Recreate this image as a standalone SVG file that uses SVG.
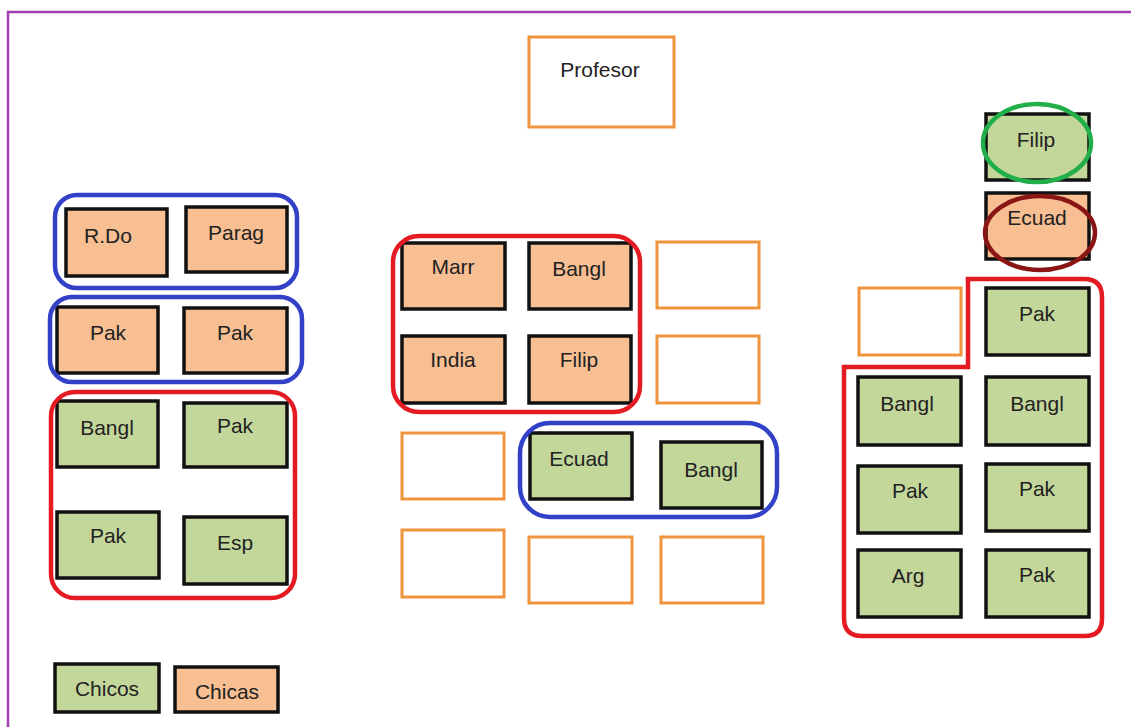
<svg xmlns="http://www.w3.org/2000/svg" width="1131" height="727" viewBox="0 0 1131 727">
<style>
  .boy { fill: #C4D79B; stroke: #111; stroke-width: 3.5; }
  .girl { fill: #F8BF93; stroke: #111; stroke-width: 3.5; }
  .empty { fill: #fff; stroke: #F0943E; stroke-width: 3; }
  .blue { fill: none; stroke: #3340C8; stroke-width: 4.5; }
  .red { fill: none; stroke: #E41B23; stroke-width: 4.5; }
  text { font-family: "Liberation Sans", Arial, sans-serif; font-size: 21px; fill: #222; text-anchor: middle; }
</style>
<rect width="1131" height="727" fill="#fff"/>
<path d="M8,727 L8,12 L1131,12" fill="none" stroke="#A23DB5" stroke-width="2.5"/>

<g id="profesor"><rect class="empty" x="529" y="37" width="145" height="90"/><text x="600" y="77">Profesor</text></g>

<!-- left column -->
<g id="n-rdo"><rect class="girl" x="66" y="209" width="101" height="67"/><text x="108" y="243">R.Do</text></g>
<g id="n-parag"><rect class="girl" x="186" y="207" width="101" height="65"/><text x="236" y="240">Parag</text></g>
<g id="n-pak1"><rect class="girl" x="57" y="307" width="101" height="66"/><text x="108" y="340">Pak</text></g>
<g id="n-pak2"><rect class="girl" x="184" y="308" width="103" height="65"/><text x="235" y="340">Pak</text></g>
<g id="n-bangl1"><rect class="boy" x="57" y="401" width="101" height="66"/><text x="107" y="435">Bangl</text></g>
<g id="n-pak3"><rect class="boy" x="184" y="403" width="103" height="64"/><text x="235" y="433">Pak</text></g>
<g id="n-pak4"><rect class="boy" x="57" y="512" width="102" height="66"/><text x="108" y="543">Pak</text></g>
<g id="n-esp"><rect class="boy" x="184" y="517" width="103" height="67"/><text x="235" y="550">Esp</text></g>

<!-- middle -->
<g id="n-marr"><rect class="girl" x="402" y="243" width="103" height="66"/><text x="453" y="274">Marr</text></g>
<g id="n-bangl2"><rect class="girl" x="529" y="243" width="102" height="66"/><text x="579" y="276">Bangl</text></g>
<g id="n-india"><rect class="girl" x="402" y="336" width="103" height="67"/><text x="453" y="367">India</text></g>
<g id="n-filip1"><rect class="girl" x="529" y="336" width="102" height="67"/><text x="579" y="367">Filip</text></g>
<g id="e1"><rect class="empty" x="657" y="242" width="102" height="66"/></g>
<g id="e2"><rect class="empty" x="657" y="336" width="102" height="67"/></g>
<g id="e3"><rect class="empty" x="402" y="433" width="102" height="66"/></g>
<g id="n-ecuad1"><rect class="boy" x="530" y="433" width="102" height="66"/><text x="579" y="466">Ecuad</text></g>
<g id="n-bangl3"><rect class="boy" x="661" y="442" width="101" height="66"/><text x="711" y="477">Bangl</text></g>
<g id="e4"><rect class="empty" x="402" y="530" width="102" height="67"/></g>
<g id="e5"><rect class="empty" x="529" y="537" width="103" height="66"/></g>
<g id="e6"><rect class="empty" x="661" y="537" width="102" height="66"/></g>

<!-- right -->
<g id="n-filip2"><rect class="boy" x="986" y="114" width="103" height="66"/><text x="1036" y="147">Filip</text></g>
<g id="n-ecuad2"><rect class="girl" x="986" y="193" width="103" height="66"/><text x="1037" y="225">Ecuad</text></g>
<g id="e7"><rect class="empty" x="859" y="288" width="102" height="67"/></g>
<g id="n-pak5"><rect class="boy" x="986" y="288" width="103" height="67"/><text x="1037" y="321">Pak</text></g>
<g id="n-bangl4"><rect class="boy" x="858" y="377" width="103" height="68"/><text x="907" y="411">Bangl</text></g>
<g id="n-bangl5"><rect class="boy" x="986" y="377" width="103" height="68"/><text x="1037" y="411">Bangl</text></g>
<g id="n-pak6"><rect class="boy" x="858" y="466" width="103" height="67"/><text x="910" y="498">Pak</text></g>
<g id="n-pak7"><rect class="boy" x="986" y="464" width="103" height="67"/><text x="1037" y="496">Pak</text></g>
<g id="n-arg"><rect class="boy" x="858" y="550" width="103" height="67"/><text x="908" y="583">Arg</text></g>
<g id="n-pak8"><rect class="boy" x="986" y="550" width="103" height="67"/><text x="1037" y="582">Pak</text></g>

<!-- legend -->
<g id="legend-chicos"><rect class="boy" x="55" y="664" width="104" height="48" stroke-width="4"/><text x="107" y="696">Chicos</text></g>
<g id="legend-chicas"><rect class="girl" x="175" y="667" width="103" height="45" stroke-width="4"/><text x="227" y="699">Chicas</text></g>

<g id="groups">
  <rect class="blue" x="55" y="195" width="242" height="93" rx="22"/>
  <rect class="blue" x="50" y="297" width="252" height="85" rx="22"/>
  <rect class="red" x="51" y="392" width="244" height="206" rx="24"/>
  <rect class="red" x="393" y="236" width="247" height="176" rx="26"/>
  <rect class="blue" x="520" y="423" width="257" height="94" rx="30"/>
  <path class="red" d="M844,367 L968,367 L968,279 L1084,279 Q1102,279 1102,297 L1102,619 Q1102,636 1085,636 L862,636 Q844,636 844,618 Z"/>
  <ellipse cx="1037" cy="143" rx="54" ry="39" fill="none" stroke="#22AE48" stroke-width="4.5"/>
  <ellipse cx="1040" cy="233" rx="55" ry="37" fill="none" stroke="#8A1515" stroke-width="4.5"/>
</g>
</svg>
